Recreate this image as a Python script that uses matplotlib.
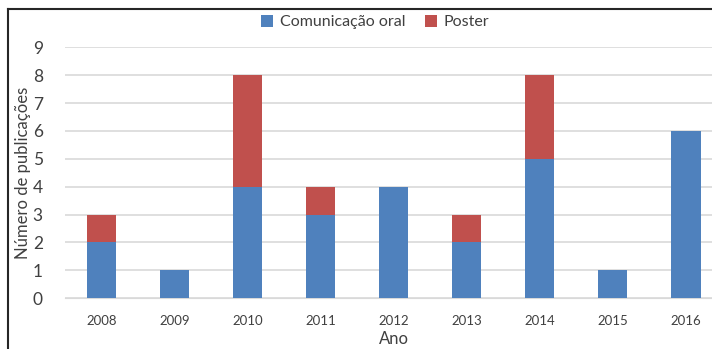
import numpy as np
import matplotlib.pyplot as plt
from matplotlib.lines import Line2D

# Publicações por ano
anos = ['2008', '2009', '2010', '2011', '2012', '2013', '2014', '2015', '2016']
comunicacao_oral = [2, 1, 4, 3, 4, 2, 5, 1, 6]
poster = [1, 0, 4, 1, 0, 1, 3, 0, 0]

plt.rcParams['font.family'] = ['Lato', 'DejaVu Sans']

azul = '#4F81BD'
vermelho = '#C0504D'
cinza = '#D9D9D9'

fig = plt.figure(figsize=(7.12, 3.49), dpi=100)
ax = fig.add_axes([0.0913, 0.146, 0.9228, 0.718])

x = np.arange(len(anos))
ax.bar(x, comunicacao_oral, width=0.41, color=azul, label='Comunicação oral', zorder=3)
ax.bar(x, poster, width=0.41, bottom=comunicacao_oral, color=vermelho, label='Poster', zorder=3)

ax.set_xlim(-0.5, len(anos) - 0.5)
ax.set_ylim(0, 9)
ax.set_yticks(range(10))
ax.set_xticks(x)
ax.set_xticklabels(anos)
ax.grid(axis='y', color=cinza, linewidth=1.2, zorder=0)
for s in ['top', 'right', 'left']:
    ax.spines[s].set_visible(False)
ax.spines['bottom'].set_color(cinza)
ax.tick_params(axis='both', length=0)
ax.tick_params(axis='y', labelsize=12.5, pad=16, colors='#404040')
ax.tick_params(axis='x', labelsize=9.5, pad=12, colors='#404040')

ax.set_xlabel('Ano', fontsize=12, color='#404040', labelpad=3)
ax.set_ylabel('Número de publicações', fontsize=12, color='#404040', labelpad=1)

fig.legend(loc='center', bbox_to_anchor=(375 / 712, 1 - 22 / 349), ncol=2, frameon=False,
           fontsize=11.5, handlelength=0.8, handleheight=0.8, handletextpad=0.4,
           columnspacing=1.2, labelcolor='#404040')

# moldura do gráfico
fig.add_artist(Line2D([8 / 712, 1], [1 - 9 / 349, 1 - 9 / 349], color='#262626', linewidth=1.5))
fig.add_artist(Line2D([8 / 712, 8 / 712], [0, 1 - 9 / 349], color='#262626', linewidth=1.5))

fig.savefig('out.png', dpi=100)
